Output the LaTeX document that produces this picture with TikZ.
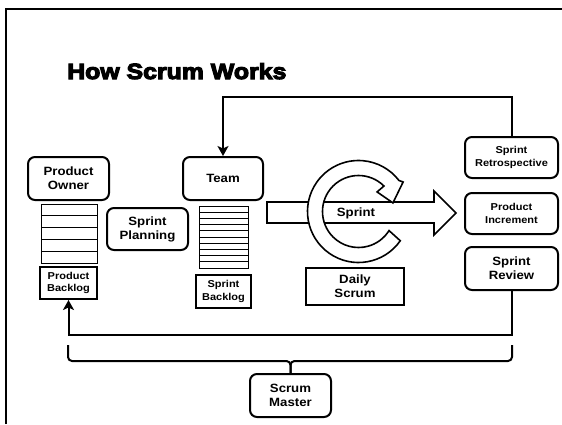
\documentclass[tikz,border=0pt]{standalone}
\usepackage{fontspec}
\setmainfont{Liberation Sans}[FakeStretch=1.1]
\newfontfamily\titlefont{Liberation Sans}[FakeStretch=1.13, BoldFeatures={FakeBold=5}]
\usetikzlibrary{arrows.meta}
\tikzset{
  lbl/.style={font=\bfseries\fontsize{12}{14}\selectfont},
  small/.style={font=\bfseries\fontsize{10}{12.5}\selectfont},
  rbox/.style={draw, line width=2pt, rounded corners=7pt, align=center, inner sep=0pt, fill=white},
  sbox/.style={draw, line width=2pt, align=center, inner sep=0pt, fill=white},
  conn/.style={line width=2pt},
  arr/.style={conn, -{Stealth[length=10pt,width=11pt,inset=2.5pt]}},
  stack/.style={draw, line width=1pt},
}
\begin{document}
\begin{tikzpicture}[x=1pt, y=-1pt]
\useasboundingbox (0,0) rectangle (562,424);
% frame
\draw[line width=2pt] (6,424) -- (6,9) -- (562,9);
% title
\node[anchor=base west, inner sep=0pt, font=\titlefont\bfseries\fontsize{22}{26}\selectfont] (title) at (67,79) {How Scrum Works};

% boxes
\node[rbox, lbl, minimum width=81pt, minimum height=43pt] (po) at (68.5,178.5) {Product\\Owner};
\node[rbox, lbl, minimum width=80pt, minimum height=43pt] (team) at (223,178.5) {Team};
\node[rbox, lbl, minimum width=81pt, minimum height=42pt] (sp) at (147.5,229) {Sprint\\Planning};
\node[sbox, small, minimum width=57pt, minimum height=32pt] (pb) at (68.5,283) {Product\\Backlog};
\node[sbox, small, minimum width=55pt, minimum height=33pt] (sb) at (223.5,291.5) {Sprint\\Backlog};
\node[sbox, lbl, minimum width=98pt, minimum height=37pt] (ds) at (355,286.5) {Daily\\Scrum};
\node[rbox, small, minimum width=93pt, minimum height=41pt] (retro) at (511.5,157.5) {Sprint\\Retrospective};
\node[rbox, small, minimum width=93pt, minimum height=41pt] (inc) at (511.5,213.5) {Product\\Increment};
\node[rbox, lbl, minimum width=93pt, minimum height=43pt] (rev) at (511.5,268.5) {Sprint\\Review};
\node[rbox, lbl, minimum width=81pt, minimum height=43pt] (sm) at (290.5,395.5) {Scrum\\Master};

% backlog stacks
\draw[stack] (41,204) rectangle (97,263);
\foreach \i in {1,...,4} { \draw[stack] (41,{204+\i*11.8}) -- (97,{204+\i*11.8}); }
\draw[stack] (199,206) rectangle (248,268);
\foreach \i in {1,...,9} { \draw[stack] (199,{206+\i*6.2}) -- (248,{206+\i*6.2}); }

% sprint arrow
\draw[line width=1.6pt, fill=white] (267,202) -- (434,202) -- (434,191) -- (456,213) -- (434,235) -- (434,223) -- (267,223) -- cycle;
% circular arrow (daily cycle)
\begin{scope}[shift={(358.5,211.5)}]
\draw[line width=1.6pt, fill=white, line join=miter]
  (35:51) arc[start angle=35, end angle=322.5, radius=51]
  -- (326.5:53.5) -- (346:35.5) -- (313.5:27) -- (315:36)
  arc[start angle=315, end angle=32, radius=36] -- cycle;
\end{scope}
\node[lbl] (sprint) at (356,213) {Sprint};

% connectors
\coordinate (topline) at (0,97);
\draw[arr] (retro.north) |- (topline -| team.north) -- (team.north);
\coordinate (botline) at (0,335);
\draw[arr] (rev.south) |- (botline -| pb.south) -- (pb.south);

% bracket to scrum master
\coordinate (bl) at (68,345);
\coordinate (br) at (512,345);
\coordinate (bj) at (sm.north |- 0,361);
\draw[conn, rounded corners=4pt] (bl) |- (bj) -- (sm.north);
\draw[conn, rounded corners=4pt] (br) |- (bj) -- (sm.north);
\end{tikzpicture}
\end{document}
